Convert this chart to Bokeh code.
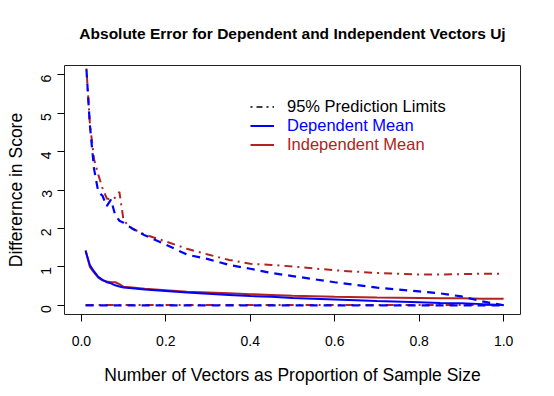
import math
import numpy as np
from bokeh.plotting import figure
from bokeh.models import Range1d, FixedTicker, Legend, LegendItem, NumeralTickFormatter
from bokeh.embed import file_html
from bokeh.resources import INLINE

# Proportion of sample size (x)
x = [0.01, 0.02, 0.03, 0.04, 0.05, 0.06, 0.07, 0.08, 0.09, 0.10, 0.12, 0.15, 0.2, 0.25,
     0.3, 0.35, 0.4, 0.45, 0.5, 0.6, 0.7, 0.8, 0.85, 0.9, 0.95, 1.0]

# Dependent vectors (blue)
dep_upper = [6.5, 4.7, 3.55, 2.95, 2.85, 2.58, 2.75, 2.35, 2.2, 2.15, 2.0, 1.82, 1.58, 1.32,
             1.2, 1.05, 0.95, 0.84, 0.76, 0.6, 0.46, 0.36, 0.31, 0.23, 0.1, 0.0]
dep_mean = [1.41, 1.05, 0.88, 0.74, 0.66, 0.6, 0.57, 0.52, 0.49, 0.46, 0.44, 0.41, 0.37, 0.33,
            0.3, 0.27, 0.24, 0.22, 0.19, 0.15, 0.11, 0.08, 0.06, 0.05, 0.03, 0.01]
dep_lower = [0.0] * 26

# Independent vectors (red)
ind_upper = [6.5, 4.75, 3.8, 3.4, 3.05, 2.78, 2.75, 2.8, 2.95, 2.2, 2.0, 1.84, 1.66, 1.47,
             1.32, 1.18, 1.08, 1.05, 1.01, 0.91, 0.84, 0.8, 0.8, 0.81, 0.82, 0.82]
ind_mean = [1.43, 1.0, 0.85, 0.72, 0.65, 0.62, 0.6, 0.6, 0.55, 0.48, 0.46, 0.43, 0.39, 0.35,
            0.33, 0.31, 0.29, 0.27, 0.25, 0.22, 0.2, 0.19, 0.18, 0.18, 0.17, 0.17]
ind_lower = [0.01] * 26

x_ticks = [0, 0.2, 0.4, 0.6, 0.8, 1.0]
y_ticks = [0, 1, 2, 3, 4, 5, 6]

BLUE = "#0000ff"
RED = "#b22222"
FONT = "Liberation Sans"

p = figure(width=554, height=396, output_backend="svg", toolbar_location=None,
           x_range=Range1d(-0.04, 1.04), y_range=Range1d(-0.24, 6.24),
           min_border_left=64, min_border_right=34, min_border_top=65, min_border_bottom=82,
           title="Absolute Error for Dependent and Independent Vectors Uj")

p.title.align = "center"
p.title.vertical_align = "middle"
p.title.text_font = FONT
p.title.text_font_size = "15.5px"
p.title.text_font_style = "bold"
p.title.text_color = "black"
p.title.standoff = 46

p.xgrid.visible = False
p.ygrid.visible = False
p.outline_line_color = "#222222"
p.outline_line_width = 1
p.background_fill_color = "white"
p.border_fill_color = "white"

# series
p.line(x, ind_upper, line_color=RED, line_width=2, line_dash="8 5 2 5")
p.line(x, ind_lower, line_color=RED, line_width=2, line_dash="8 5 2 5")
r_ind_mean = p.line(x, ind_mean, line_color=RED, line_width=2)
p.line(x, dep_upper, line_color=BLUE, line_width=2.2, line_dash="8 6")
p.line(x, dep_lower, line_color=BLUE, line_width=2.2, line_dash="8 6")
r_dep_mean = p.line(x, dep_mean, line_color=BLUE, line_width=2)
# legend key for the prediction limits (no visible data)
r_pl_leg = p.line(np.array([np.nan]), np.array([np.nan]), line_color="black",
                  line_width=1.5, line_dash="2 4 6 4")

for ax in (p.xaxis[0], p.yaxis[0]):
    ax.axis_line_color = None
    ax.major_tick_line_color = "black"
    ax.major_tick_out = 7
    ax.major_tick_in = 0
    ax.minor_tick_line_color = None
    ax.major_label_text_font = FONT
    ax.major_label_text_font_size = "14px"
    ax.major_label_text_color = "black"
    ax.axis_label_text_font = FONT
    ax.axis_label_text_font_size = "17.5px"
    ax.axis_label_text_font_style = "normal"
    ax.axis_label_text_color = "black"

p.xaxis.ticker = FixedTicker(ticks=x_ticks)
p.xaxis.formatter = NumeralTickFormatter(format="0.0")
p.xaxis.major_label_standoff = 14
p.xaxis.axis_label = "Number of Vectors as Proportion of Sample Size"
p.xaxis.axis_label_standoff = 16

p.yaxis.ticker = FixedTicker(ticks=y_ticks)
p.yaxis.major_label_orientation = math.pi / 2
p.yaxis.major_label_standoff = 11
p.yaxis.axis_label = "Differernce in Score"
p.yaxis.axis_label_standoff = 8


def add_legend(label, rend, color, loc):
    lg = Legend(items=[LegendItem(label=label, renderers=[rend])], location=loc,
                border_line_color=None, background_fill_alpha=0, padding=0, margin=0,
                spacing=0, glyph_width=24, glyph_height=19, label_height=19,
                label_standoff=13, label_text_font=FONT, label_text_font_size="16.5px",
                label_text_color=color)
    p.add_layout(lg, "center")


add_legend("95% Prediction Limits", r_pl_leg, "black", (186, 198))
add_legend("Dependent Mean", r_dep_mean, BLUE, (186, 179))
add_legend("Independent Mean", r_ind_mean, RED, (186, 160))

open("out.html", "w").write(file_html(p, INLINE))
